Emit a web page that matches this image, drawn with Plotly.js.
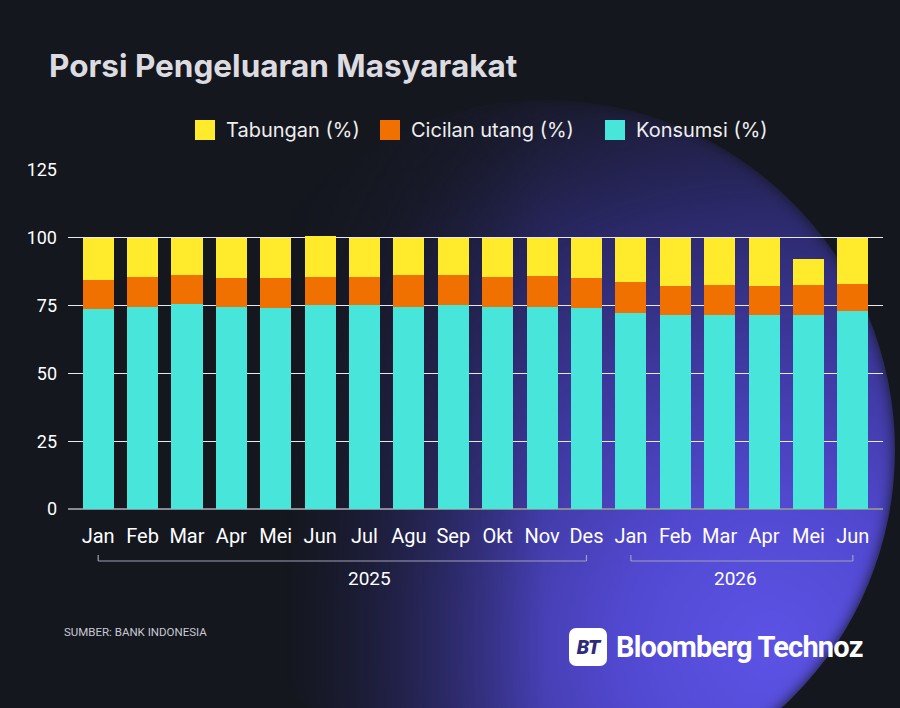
<!DOCTYPE html>
<html>
<head>
<meta charset="utf-8">
<script src="https://cdn.plot.ly/plotly-3.0.1.min.js"></script>
<style>
  html, body { margin:0; padding:0; width:900px; height:708px; overflow:hidden; background:#15171f; }
  #wrap { position:relative; width:900px; height:708px; overflow:hidden; background:#15171f; }
  #glow { position:absolute; left:195px; top:100px; width:700px; height:700px; border-radius:50%;
    background: radial-gradient(circle at 82% 78%, #5c53e6 0%, #5249d2 18%, #3d389c 38%, #2a2866 56%, rgba(34,34,74,0.45) 72%, rgba(21,23,31,0) 84%);
    -webkit-mask-image: linear-gradient(to right, rgba(0,0,0,0) 13%, rgba(0,0,0,1) 50%);
    mask-image: linear-gradient(to right, rgba(0,0,0,0) 13%, rgba(0,0,0,1) 50%);
    filter: blur(7px); }
  #chart { position:absolute; left:0; top:0; width:900px; height:708px; }
  #logo { position:absolute; left:569px; top:627px; height:39px; display:flex; align-items:center; }
  #logo .box { width:38px; height:38px; border-radius:7px; background:#fff; display:flex; align-items:center; justify-content:center;
    font-family:Roboto, sans-serif; font-weight:900; font-style:italic; font-size:20px; color:#2e2b7a; letter-spacing:-1px; }
  #logo .name { margin-left:9px; font-family:Roboto, sans-serif; font-weight:700; font-size:29px; color:#fff; letter-spacing:-0.8px; }
</style>
</head>
<body>
<div id="wrap">
  <div id="glow"></div>
  <div id="chart"></div>
  <div id="logo"><div class="box">BT</div><div class="name">Bloomberg Technoz</div></div>
</div>
<script>
const months = ['Jan','Feb','Mar','Apr','Mei','Jun','Jul','Agu','Sep','Okt','Nov','Des','Jan','Feb','Mar','Apr','Mei','Jun'];
const years = ['2025','2025','2025','2025','2025','2025','2025','2025','2025','2025','2025','2025','2026','2026','2026','2026','2026','2026'];
const konsumsi = [73.7,74.5,75.7,74.5,74.1,75.1,75.1,74.5,75.1,74.6,74.6,74.0,72.3,71.5,71.5,71.5,71.5,73.0];
const cicilan  = [10.9,11.2,10.6,10.5,10.9,10.6,10.3,11.8,11.2,10.9,11.3,11.0,11.5,10.6,11.1,10.6,11.1,9.9];
const tabungan = [15.4,14.3,13.7,15.0,15.0,15.1,14.6,13.7,13.7,14.5,14.1,15.0,16.2,17.9,17.4,17.9,9.7,17.1];
const seriesNames = ['Konsumsi (%)','Cicilan utang (%)','Tabungan (%)'];
const yTicks = [0,25,50,75,100,125];

const xs = months.map((_, i) => i);
const FONT = 'Roboto, sans-serif';
const FONT2 = 'Inter, sans-serif';
const colors = ['#48e6da','#f07000','#ffea2b'];

const traces = [konsumsi, cicilan, tabungan].map((vals, i) => ({
  type:'bar', x:xs, y:vals, name:seriesNames[i], marker:{color:colors[i], line:{width:0}},
  hoverinfo:'skip', showlegend:false
}));

// pixel -> paper helpers (plot area: x 68..883, y 170..509)
const PL = 68, PW = 815, PB = 509, PH = 339;
const px = v => (v - PL) / PW;
const py = v => (PB - v) / PH;

const shapes = [];
const annotations = [];

// custom legend (top order: Tabungan, Cicilan, Konsumsi)
const legendSquareX = [195, 380, 605];
[2, 1, 0].forEach((si, k) => {
  const x0 = legendSquareX[k];
  shapes.push({type:'rect', xref:'paper', yref:'paper', x0:px(x0), x1:px(x0+20), y0:py(140), y1:py(120),
    fillcolor:colors[si], line:{width:0}});
  annotations.push({xref:'paper', yref:'paper', x:px(x0+29), y:py(130), xanchor:'left', yanchor:'middle',
    text:seriesNames[si], showarrow:false, font:{family:FONT2, size:20, color:'#eeeeee'}});
});

// year brackets
const uniqYears = [...new Set(years)];
const labelShift = [0.555, 0.47]; // where the year label sits along its bracket
uniqYears.forEach((yr, k) => {
  const first = years.indexOf(yr), last = years.lastIndexOf(yr);
  const lc = '#a0a0b4';
  shapes.push({type:'line', xref:'x', yref:'paper', x0:first, x1:last, y0:py(561), y1:py(561), line:{color:lc, width:1.2}});
  shapes.push({type:'line', xref:'x', yref:'paper', x0:first, x1:first, y0:py(561), y1:py(555), line:{color:lc, width:1.2}});
  shapes.push({type:'line', xref:'x', yref:'paper', x0:last, x1:last, y0:py(561), y1:py(555), line:{color:lc, width:1.2}});
  annotations.push({xref:'x', yref:'paper', x:first + (last-first)*labelShift[k], y:py(578), text:yr, showarrow:false,
    xanchor:'center', yanchor:'middle', font:{family:FONT, size:19, color:'#ffffff'}});
});
annotations.push({xref:'paper', yref:'paper', x:px(62), y:py(632), xanchor:'left', yanchor:'middle',
  text:'SUMBER: BANK INDONESIA', showarrow:false, font:{family:FONT, size:11.5, color:'#c8c8d2'}});

const layout = {
  width:900, height:708,
  margin:{l:68, r:17, t:170, b:199, pad:0},
  paper_bgcolor:'rgba(0,0,0,0)', plot_bgcolor:'rgba(0,0,0,0)',
  barmode:'stack', bargap:0.3,
  title:{text:'<b>Porsi Pengeluaran Masyarakat</b>', xref:'container', yref:'container', x:49/900, xanchor:'left',
    y:1-66/708, yanchor:'middle', font:{family:FONT2, size:31.5, color:'#dcdce0'}},
  showlegend:false,
  xaxis:{range:[-0.68, 17.68], tickmode:'array', tickvals:xs, ticktext:months, showgrid:false, zeroline:false,
    showline:false, ticks:'', tickfont:{family:FONT, size:20, color:'#ffffff'}, ticklabelstandoff:13, fixedrange:true},
  yaxis:{range:[0,125], tickmode:'array', tickvals:yTicks, showgrid:true, gridcolor:'#e8e8ee', gridwidth:1,
    zeroline:true, zerolinecolor:'#8a8a96', zerolinewidth:2, showline:false, ticks:'',
    tickfont:{family:FONT, size:18, color:'#ffffff'}, ticklabelstandoff:10, fixedrange:true},
  shapes:shapes, annotations:annotations
};

Plotly.newPlot('chart', traces, layout, {displayModeBar:false, staticPlot:true});
</script>
</body>
</html>
